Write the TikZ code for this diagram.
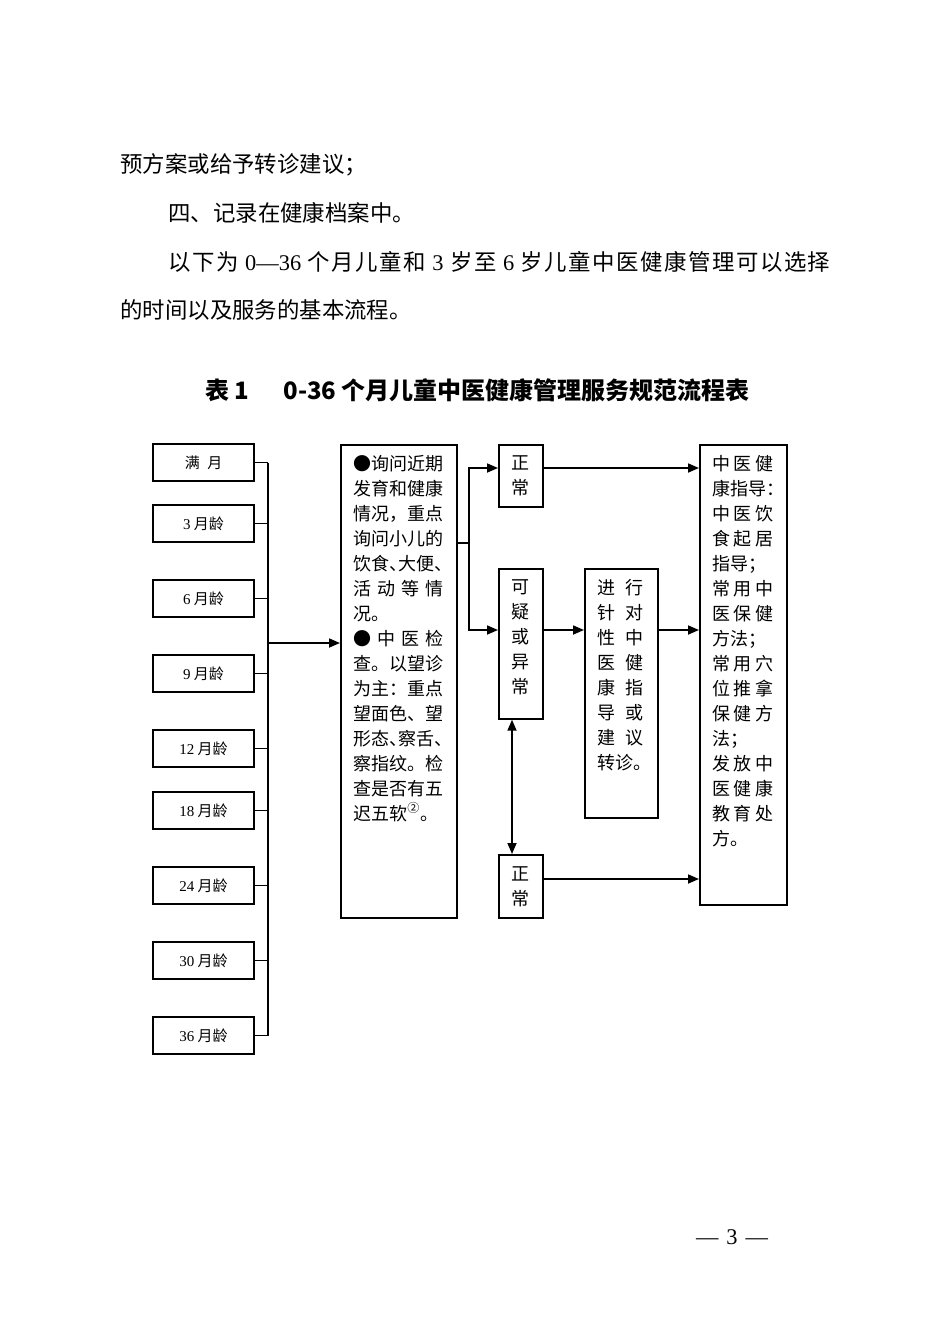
\documentclass[tikz,border=0pt]{standalone}
\usepackage{fontspec}
\setmainfont{Noto Sans CJK SC}
\newfontfamily\num{Liberation Serif}
\usetikzlibrary{arrows.meta}

\makeatletter
\newcommand\spreadline[2]{\leavevmode\hbox to #1{\@tfor\sp@ch:=#2\do{\sp@ch\hfil}\unskip}}
\makeatother
\newcommand\jl[1]{\spreadline{\linewidth}{#1}}
\newcommand\hw[1]{\makebox[.5em][l]{#1}}
\newcommand\mon[1]{{\num #1}~月龄}

\begin{document}
\begin{tikzpicture}[x=0.5pt, y=-0.5pt,
  every node/.style={inner sep=0pt},
  para/.style={anchor=west, font=\fontsize{11.2pt}{14pt}\selectfont},
  ttl/.style={anchor=west, font=\fontsize{12pt}{14pt}\selectfont\bfseries},
  mbox/.style={draw, line width=0.85pt, minimum width=50.5pt, minimum height=18.5pt, font=\fontsize{7.5pt}{9pt}\selectfont},
  box/.style={draw, line width=0.85pt, anchor=north west, align=center, font=\fontsize{9pt}{12.5pt}\selectfont},
  txt/.style={anchor=north west, align=left, font=\fontsize{9pt}{12.5pt}\selectfont},
  arr/.style={-{Triangle[length=5.5pt,width=4.5pt]}, line width=0.85pt},
  dblarr/.style={{Triangle[length=5.5pt,width=4.5pt]}-{Triangle[length=5.5pt,width=4.5pt]}, line width=0.85pt},
  ln/.style={line width=0.85pt}]
\useasboundingbox (0,0) rectangle (950,1344);

% text above the table
\node[para] (p1) at (120,165) {预方案或给予转诊建议；};
\node[para] (p2) at (168,213) {四、记录在健康档案中。};
\node[para] (p3) at (168,262) {\spreadline{331pt}{以下为{~{\num 0—36}~}个月儿童和{~{\num 3}~}岁至{~{\num 6}~}岁儿童中医健康管理可以选择}};
\node[para] (p4) at (120,310) {的时间以及服务的基本流程。};
\node[ttl] (ttlno) at (205,390) {表 1};
\node[ttl] (ttl) at (283,390) {0-36 个月儿童中医健康管理服务规范流程表};

% months
\coordinate (bus) at (268,643);
\node[mbox] (m0) at (203.5,462.5) {满\hspace{.5em}月};
\foreach \a/\c in {3/523.5, 6/598.5, 9/673.5, 12/748.5, 18/810.5, 24/885.5, 30/960.5, 36/1035.5}
  \node[mbox] (m\a) at (203.5,\c) {\mon{\a}};
\foreach \a in {0,3,6,9,12,18,24,30,36}
  \draw[ln] (m\a.east) -- (m\a.east -| bus);
\draw[ln] (m0.east -| bus) -- (m36.east -| bus);

% boxes
\node[box, minimum width=58pt, minimum height=236.5pt] (mid) at (340,444) {};
\node[txt, text width=45pt] (midtxt) at (353,455) {%
\jl{●询问近期}\\
\jl{发育和健康}\\
\jl{情况，重点}\\
\jl{询问小儿的}\\
\jl{饮食{\hw{、}}大便{\hw{、}}}\\
\jl{活动等情}\\
况。\\
\jl{●中医检}\\
\jl{查。以望诊}\\
\jl{为主：重点}\\
\jl{望面色、望}\\
\jl{形态{\hw{、}}察舌{\hw{、}}}\\
\jl{察指纹。检}\\
\jl{查是否有五}\\
迟五软\textsuperscript{②}。};
\node[box, minimum width=22pt, minimum height=31pt] (ok1) at (498,444) {正\\常};
\node[box, minimum width=22pt, minimum height=75pt] (sus) at (498,568) {};
\node[txt, anchor=north, align=center] (sustxt) at (520,579) {可\\疑\\或\\异\\常};
\node[box, minimum width=22pt, minimum height=31.5pt] (ok2) at (498,854) {正\\常};
\node[box, minimum width=36.5pt, minimum height=124.5pt] (act) at (584,568) {};
\node[txt, text width=23pt] (acttxt) at (597,579) {%
\jl{进行}\\
\jl{针对}\\
\jl{性中}\\
\jl{医健}\\
\jl{康指}\\
\jl{导或}\\
\jl{建议}\\
转诊。};
\node[box, minimum width=43.5pt, minimum height=230pt] (rt) at (699,444) {};
\node[txt, text width=30.5pt] (rttxt) at (712,455) {%
\jl{中医健}\\
康指导\hw{：}\\
\jl{中医饮}\\
\jl{食起居}\\
指导；\\
\jl{常用中}\\
\jl{医保健}\\
方法；\\
\jl{常用穴}\\
\jl{位推拿}\\
\jl{保健方}\\
法；\\
\jl{发放中}\\
\jl{医健康}\\
\jl{教育处}\\
方。};

% connectors
\coordinate (br) at (469,543);
\coordinate (r1) at (0,468);
\coordinate (r2) at (0,630);
\coordinate (r3) at (0,879);
\coordinate (vx) at (512,0);
\draw[arr] (bus) -- (bus -| mid.west);
\draw[ln] (br -| mid.east) -- (br);
\draw[arr] (br) |- (r1 -| ok1.west);
\draw[arr] (br) |- (r2 -| sus.west);
\draw[arr] (r1 -| ok1.east) -- (r1 -| rt.west);
\draw[arr] (r2 -| sus.east) -- (r2 -| act.west);
\draw[arr] (r2 -| act.east) -- (r2 -| rt.west);
\draw[arr] (r3 -| ok2.east) -- (r3 -| rt.west);
\draw[dblarr] (vx |- sus.south) -- (vx |- ok2.north);

\node[para, anchor=center] (pg) at (732,1237) {{\num —\hspace{4pt}3\hspace{4pt}—}};
\end{tikzpicture}
\end{document}
